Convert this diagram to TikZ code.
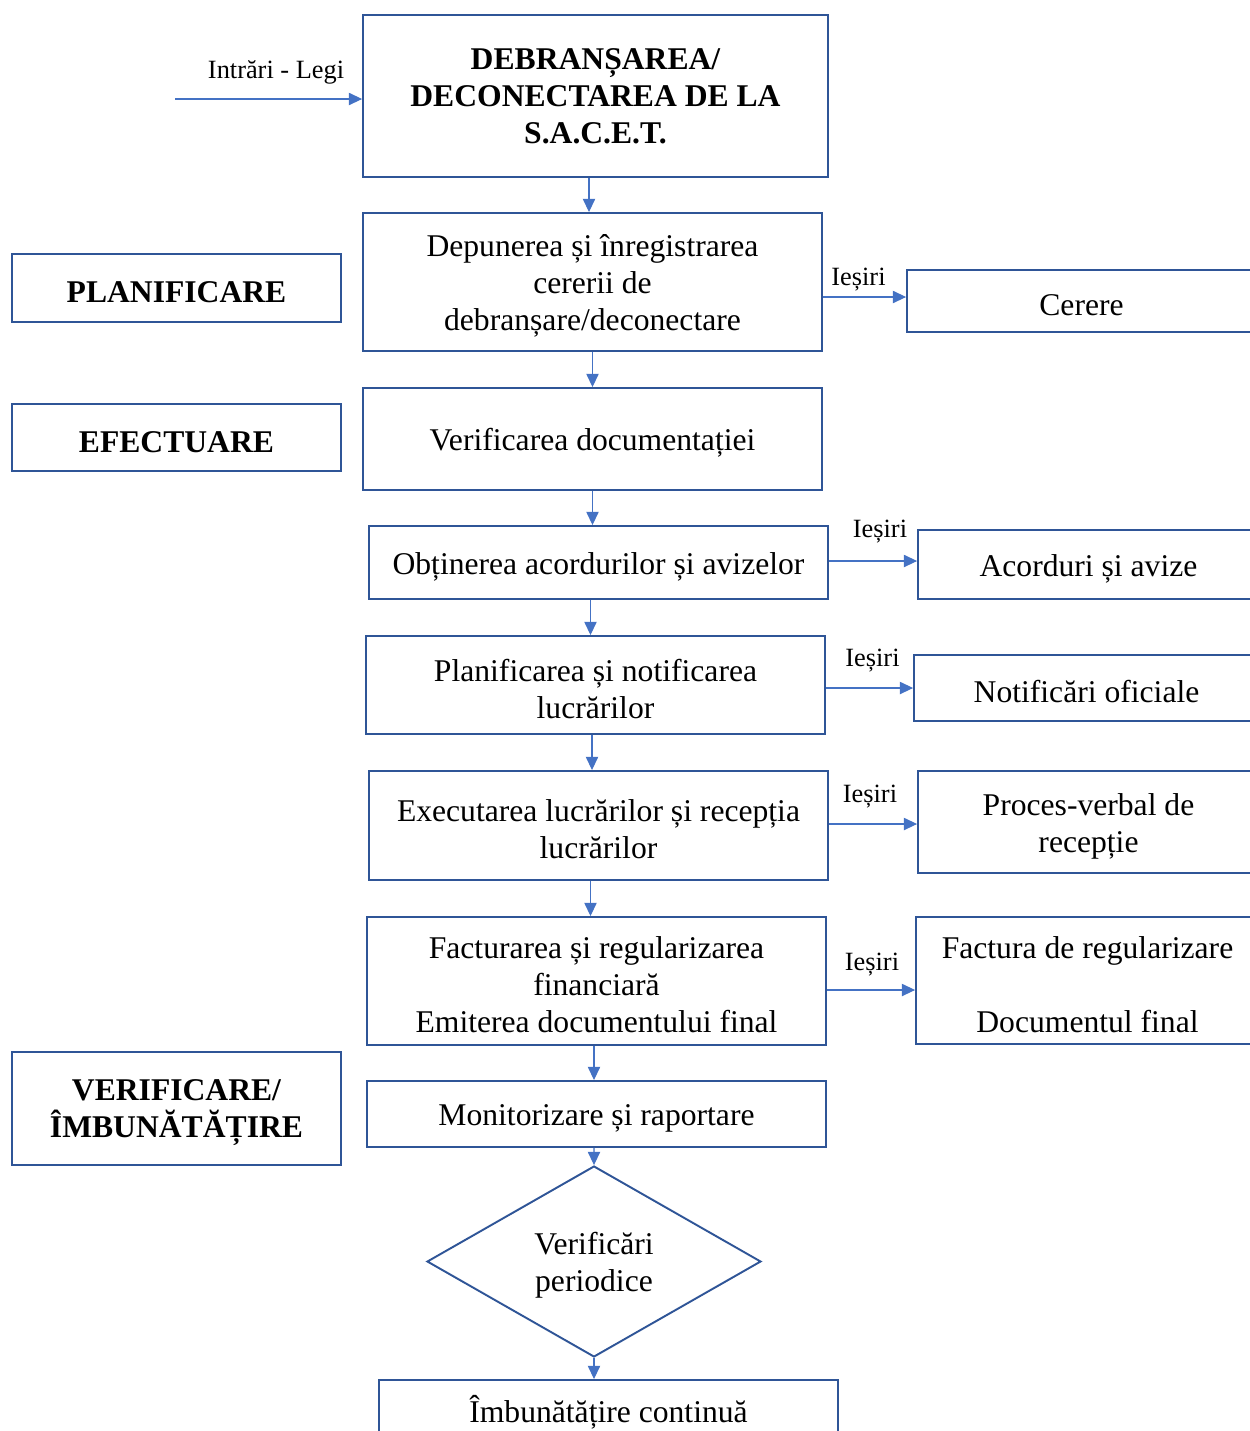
\documentclass[tikz,border=0pt]{standalone}
\usepackage{fontspec}
\setmainfont{Liberation Serif}
\usepackage{tikz}
\usetikzlibrary{arrows.meta, shapes.geometric, positioning}
\definecolor{boxblue}{HTML}{2F5597}
\definecolor{arrowblue}{HTML}{4472C4}
\newcommand{\toppad}{\rule{0pt}{17pt}}

\begin{document}
\begin{tikzpicture}[
        x=0.02cm, y=-0.02cm,
        box/.style={rectangle, draw=boxblue, line width=1.1pt, align=center, inner sep=2pt, font=\fontsize{18}{21}\selectfont},
        title/.style={box, font=\fontsize{18}{21}\selectfont\bfseries},
        phase/.style={box, minimum width=6.58cm, font=\fontsize{18}{21}\selectfont\bfseries},
        outbox/.style={box, minimum width=6.82cm},
        stepbox/.style={box, minimum width=9.18cm},
        decision/.style={diamond, draw=boxblue, line width=1.1pt, align=center, inner sep=0pt, aspect=1.75, minimum width=6.68cm, minimum height=3.82cm, font=\fontsize{18}{21}\selectfont},
        arrow/.style={-{Triangle[length=7.5pt, width=7pt]}, draw=arrowblue, fill=arrowblue, line width=0.6pt},
        lbl/.style={font=\fontsize{15}{17}\selectfont, inner sep=2pt}
    ]
    \useasboundingbox (0,0) rectangle (1250,1431);

    % Proces principal
    \node (top) [title, minimum width=9.3cm, minimum height=3.24cm] at (595.5,96) {DEBRANȘAREA/\\DECONECTAREA DE LA\\S.A.C.E.T.};
    \node (dep) [stepbox, minimum height=2.76cm] at (592.5,282) {\toppad Depunerea și înregistrarea\\cererii de\\debranșare/deconectare};
    \node (ver) [stepbox, minimum height=2.04cm] at (592.5,439) {\toppad Verificarea documentației};
    \node (obt) [stepbox, minimum height=1.46cm] at (598.5,562.5) {\toppad Obținerea acordurilor și avizelor};
    \node (plan) [stepbox, minimum height=1.96cm] at (595.5,685) {\toppad Planificarea și notificarea\\lucrărilor};
    \node (exec) [stepbox, minimum height=2.18cm] at (598.5,825.5) {\toppad Executarea lucrărilor și recepția\\lucrărilor};
    \node (fact) [stepbox, minimum height=2.56cm] at (596.5,981) {\toppad Facturarea și regularizarea\\financiară\\Emiterea documentului final};
    \node (mon) [stepbox, minimum height=1.32cm] at (596.5,1114) {\toppad Monitorizare și raportare};
    \node (chk) [decision] at (594,1261.5) {\toppad Verificări\\periodice};
    \node (imb) [stepbox, minimum height=1.3cm] at (608.5,1412.5) {Îmbunătățire continuă};

    % Etape
    \node (planif) [phase, minimum height=1.36cm] at (176.5,288) {\toppad PLANIFICARE};
    \node (efect) [phase, minimum height=1.34cm] at (176.5,437.5) {\toppad EFECTUARE};
    \node (verif) [phase, minimum height=2.26cm] at (176.5,1108.5) {\toppad VERIFICARE/\\ÎMBUNĂTĂȚIRE};

    % Iesiri
    \node (cer) [outbox, minimum width=6.98cm, minimum height=1.24cm] at (1081.5,301) {\toppad Cerere};
    \node (acord) [outbox, minimum height=1.38cm] at (1088.5,564.5) {\toppad Acorduri și avize};
    \node (notif) [outbox, minimum width=6.9cm, minimum height=1.32cm] at (1086.5,688) {\toppad Notificări oficiale};
    \node (proc) [outbox, minimum height=2.04cm] at (1088.5,822) {\toppad Proces-verbal de\\recepție};
    \node (factr) [outbox, minimum width=6.86cm, minimum height=2.54cm] at (1087.5,980.5) {\toppad Factura de regularizare\\[21pt]Documentul final};

    % Intrari
    \coordinate (in) at (175,99);
    \draw [arrow] (in) -- (in -| top.west) node[lbl, pos=0.54, above=6pt] {Intrări - Legi};

    % Flux
    \draw [arrow] ([xshift=-0.13cm]top.south) -- ([xshift=-0.13cm]top.south |- dep.north);
    \draw [arrow] (dep.south) -- (ver.north);
    \draw [arrow] (ver.south) -- (ver.south |- obt.north);
    \draw [arrow] ([xshift=-0.16cm]obt.south) -- ([xshift=-0.16cm]obt.south |- plan.north);
    \draw [arrow] ([xshift=-0.07cm]plan.south) -- ([xshift=-0.07cm]plan.south |- exec.north);
    \draw [arrow] ([xshift=-0.16cm]exec.south) -- ([xshift=-0.16cm]exec.south |- fact.north);
    \draw [arrow] ([xshift=-0.05cm]fact.south) -- ([xshift=-0.05cm]fact.south |- mon.north);
    \draw [arrow] ([xshift=-0.05cm]mon.south) -- (chk.north);
    \draw [arrow] (chk.south) -- (chk.south |- imb.north);

    % Iesiri
    \draw [arrow] ([yshift=0.08cm]dep.east |- cer.west) -- ([yshift=0.08cm]cer.west) node[lbl, midway, above=1pt, xshift=-0.12cm] {Ieșiri};
    \draw [arrow] ([yshift=0.07cm]obt.east |- acord.west) -- ([yshift=0.07cm]acord.west) node[lbl, midway, above=8pt, xshift=0.14cm] {Ieșiri};
    \draw [arrow] (plan.east |- notif.west) -- (notif.west) node[lbl, midway, above=7pt, xshift=0.06cm] {Ieșiri};
    \draw [arrow] ([yshift=-0.04cm]exec.east |- proc.west) -- ([yshift=-0.04cm]proc.west) node[lbl, midway, above=6.5pt, xshift=-0.06cm] {Ieșiri};
    \draw [arrow] ([yshift=-0.19cm]fact.east |- factr.west) -- ([yshift=-0.19cm]factr.west) node[lbl, midway, above=5.5pt, xshift=0.02cm] {Ieșiri};

\end{tikzpicture}
\end{document}
